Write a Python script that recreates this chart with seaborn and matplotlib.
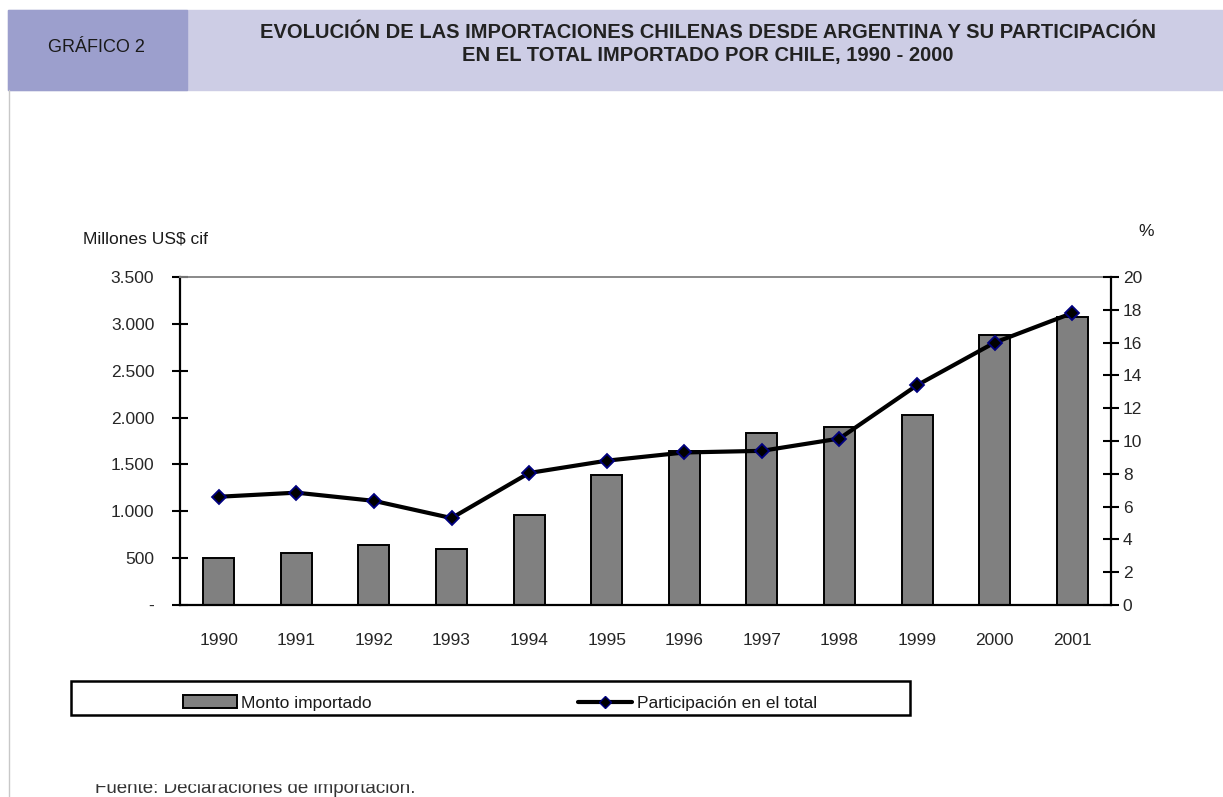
import numpy as np
import pandas as pd
import matplotlib
matplotlib.use("Agg")
import matplotlib.pyplot as plt
import seaborn as sns
from matplotlib.patches import Rectangle
from matplotlib.lines import Line2D
from matplotlib.patches import Patch
from matplotlib.ticker import FuncFormatter

# datos
anios = ["1990", "1991", "1992", "1993", "1994", "1995",
         "1996", "1997", "1998", "1999", "2000", "2001"]
monto = [505, 552, 637, 595, 957, 1384, 1646, 1832, 1896, 2024, 2877, 3070]
participacion = [6.6, 6.85, 6.35, 5.3, 8.05, 8.8, 9.3, 9.4, 10.15, 13.4, 16.0, 17.8]

titulo = ("EVOLUCIÓN DE LAS IMPORTACIONES CHILENAS DESDE ARGENTINA Y SU PARTICIPACIÓN\n"
          "EN EL TOTAL IMPORTADO POR CHILE, 1990 - 2000")

df = pd.DataFrame({"anio": anios, "monto": monto, "pct": participacion})

sns.set_style("white")
plt.rcParams["font.family"] = ["Liberation Sans", "DejaVu Sans"]
plt.rcParams["text.color"] = "#1a1a1a"

W, H = 1223, 797
fig = plt.figure(figsize=(W / 100, H / 100), dpi=100)

def fx(px):
    return px / W

def fy(py):
    return 1 - py / H

# cabecera
fig.patches.append(Rectangle((fx(8), fy(90)), fx(1223 - 8), 80 / H,
                             transform=fig.transFigure, color="#cdcde5", zorder=0))
fig.patches.append(Rectangle((fx(8), fy(90)), fx(187 - 8), 80 / H,
                             transform=fig.transFigure, color="#9c9fcd", zorder=0))
fig.lines.append(Line2D([fx(8.5), fx(8.5)], [fy(90), 0], transform=fig.transFigure,
                        color="#c8c8c8", lw=1))
fig.text(fx(96), fy(48), "GRÁFICO 2", ha="center", va="center", fontsize=13,
         color="#1a1a1a")
fig.text(fx(708), fy(44), titulo, ha="center", va="center", fontsize=14.5,
         fontweight="bold", color="#222222", linespacing=1.25)

ax = fig.add_axes([fx(180), fy(605), fx(1111 - 180), (605 - 277) / H])
sns.barplot(data=df, x="anio", y="monto", color="#808080", saturation=1,
            edgecolor="black", linewidth=1.4, width=0.4, ax=ax, zorder=2)
ax.set_xlim(-0.5, len(anios) - 0.5)
ax.set_ylim(0, 3500)
ax.set_yticks(np.arange(0, 3501, 500))
ax.yaxis.set_major_formatter(FuncFormatter(
    lambda v, p: "-" if v == 0 else f"{int(v):,}".replace(",", ".")))
ax.set_xlabel("")
ax.set_ylabel("")
ax.set_xticks(np.arange(-0.5, len(anios), 1), minor=True)
ax.tick_params(axis="x", which="major", length=0, pad=20, labelsize=12.5)
ax.tick_params(axis="x", which="minor", length=11, width=1.5, direction="inout",
               color="black")
ax.tick_params(axis="y", length=11, width=1.5, direction="inout", pad=13,
               labelsize=12.5, left=True, color="black")
for s in ["left", "bottom"]:
    ax.spines[s].set_color("black")
    ax.spines[s].set_linewidth(1.6)
ax.spines["top"].set_color("#808080")
ax.spines["top"].set_linewidth(1.3)
ax.spines["right"].set_visible(False)

ax2 = ax.twinx()
sns.lineplot(x=np.arange(len(anios)), y=df["pct"], ax=ax2, color="black",
             linewidth=3, marker="D", markersize=7, markerfacecolor="black",
             markeredgecolor="#000080", markeredgewidth=1.3, zorder=3)
ax2.set_ylim(0, 20)
ax2.set_yticks(np.arange(0, 21, 2))
ax2.set_ylabel("")
ax2.tick_params(axis="y", length=11, width=1.5, direction="inout", pad=3,
                labelsize=12.5, right=True, color="black")
for s in ["left", "bottom", "top"]:
    ax2.spines[s].set_visible(False)
ax2.spines["right"].set_color("black")
ax2.spines["right"].set_linewidth(1.6)

fig.text(fx(83), fy(239), "Millones US$ cif", ha="left", va="center", fontsize=12.5)
fig.text(fx(1146), fy(231), "%", ha="center", va="center", fontsize=12.5)

# leyenda con marco propio
fig.patches.append(Rectangle((fx(71), fy(715)), fx(910 - 71), 34 / H,
                             transform=fig.transFigure, fill=False,
                             edgecolor="black", lw=1.8))
handles = [Patch(facecolor="#808080", edgecolor="black", linewidth=1.4),
           Line2D([], [], color="black", lw=3, marker="D", markersize=6,
                  markerfacecolor="black", markeredgecolor="#000080")]
fig.legend(handles, ["Monto importado", "Participación en el total"],
           loc="center left", bbox_to_anchor=(fx(183), fy(703)), ncol=2,
           frameon=False, fontsize=12.5, handlelength=3.1, handletextpad=0.25,
           columnspacing=11.9, borderaxespad=0, borderpad=0)

# nota al pie (cortada arriba como en el original)
fig.text(fx(95), fy(793), "Fuente: Declaraciones de importación.", ha="left",
         va="baseline", fontsize=13.5, color="#333333", zorder=3)
fig.patches.append(Rectangle((fx(60), fy(783)), fx(450), 25 / H,
                             transform=fig.transFigure, color="white", zorder=4))

fig.savefig("out.png", dpi=100)
